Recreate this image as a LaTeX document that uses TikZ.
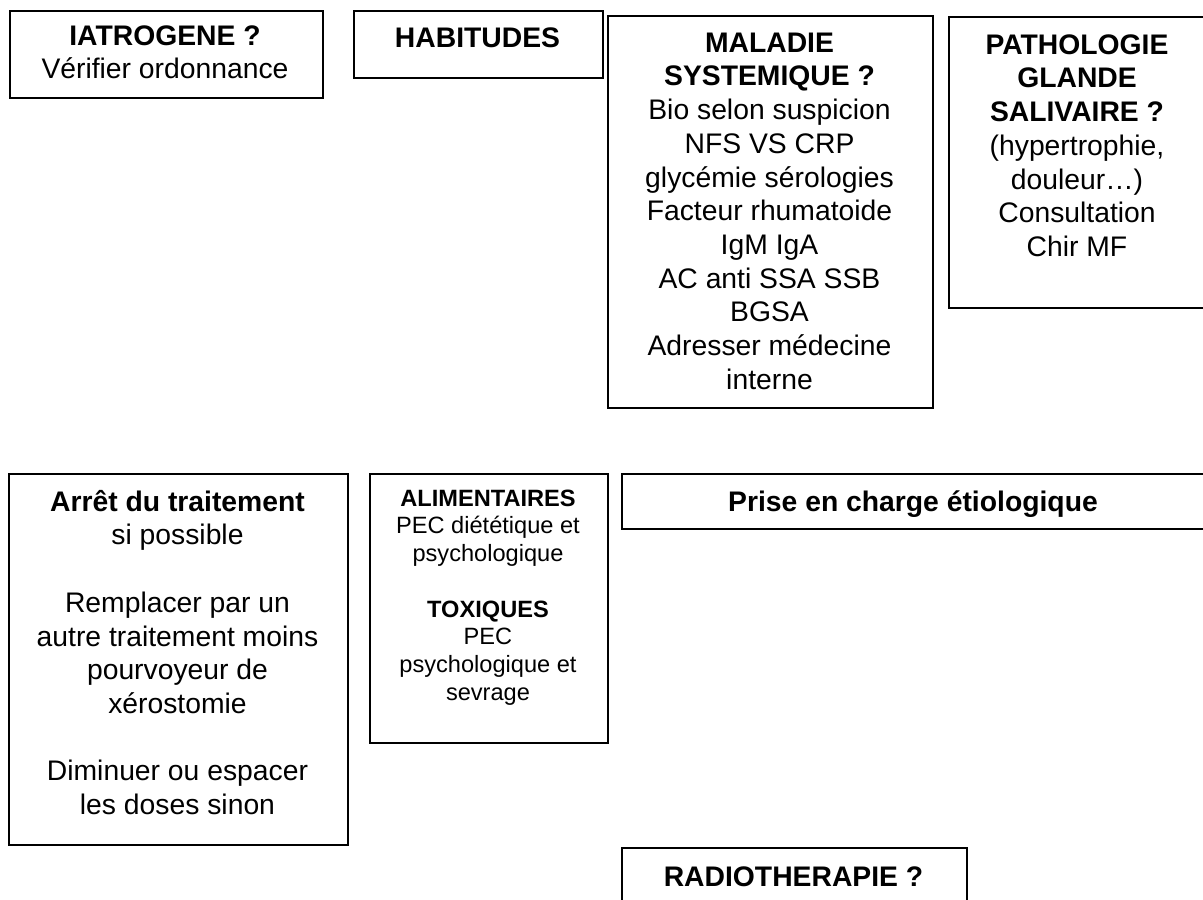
\documentclass[tikz,border=0pt]{standalone}
\usepackage{fontspec}
\setmainfont{Liberation Sans}
\newcommand{\bigfnt}{\fontsize{28.3}{33.7}\selectfont}
\newcommand{\smallfnt}{\fontsize{23.6}{27.7}\selectfont}
\newcommand{\bigstrut}{\rule{0pt}{28pt}}
\newcommand{\smallstrut}{\rule{0pt}{24pt}}
\tikzset{
  box/.style={draw=black, line width=1.7pt, anchor=north west, inner sep=0pt},
  heavybox/.style={box, line width=2.2pt},
  bigtext/.style={anchor=north, align=center, inner sep=0pt, font=\bigfnt},
  smalltext/.style={anchor=north, align=center, inner sep=0pt, font=\smallfnt},
}
\begin{document}
\begin{tikzpicture}[x=1pt,y=-1pt]
\useasboundingbox (0,0) rectangle (1203,900);
\clip (0,0) rectangle (1203,900);
\fill[white] (0,0) rectangle (1203,900);

% boxes
\node[heavybox, minimum width=313.5pt, minimum height=87.5pt] (iat) at (8.5,9.5) {};
\node[heavybox, minimum width=249pt, minimum height=67pt] (hab) at (353,9.5) {};
\node[box, minimum width=325pt, minimum height=392pt] (mal) at (607,15) {};
\node[box, minimum width=258pt, minimum height=291pt] (pat) at (948,16) {};
\node[box, minimum width=339pt, minimum height=371pt] (arr) at (8,473) {};
\node[box, minimum width=238pt, minimum height=269pt] (ali) at (369,473) {};
\node[box, minimum width=584pt, minimum height=55pt] (pec) at (621,473) {};
\node[box, minimum width=345pt, minimum height=113pt] (rad) at (621,847) {};

% texts
\node[bigtext] (iatT) at (165,17) {\bigstrut\textbf{IATROGENE ?}\\Vérifier ordonnance};
\node[bigtext] (habT) at (477.5,19) {\bigstrut\textbf{HABITUDES}};
\node[bigtext] (malT) at (769.5,24) {\bigstrut\textbf{MALADIE}\\\textbf{SYSTEMIQUE ?}\\Bio selon suspicion\\NFS VS CRP\\glycémie sérologies\\Facteur rhumatoide\\IgM IgA\\AC anti SSA SSB\\BGSA\\Adresser médecine\\interne};
\node[bigtext] (patT) at (1077,26) {\bigstrut\textbf{PATHOLOGIE}\\\textbf{GLANDE}\\\textbf{SALIVAIRE ?}\\(hypertrophie,\\douleur…)\\Consultation\\Chir MF};
\node[bigtext] (arrT) at (177.5,483) {\bigstrut\textbf{Arrêt du traitement}\\si possible\\[33.7pt]Remplacer par un\\autre traitement moins\\pourvoyeur de\\xérostomie\\[33.7pt]Diminuer ou espacer\\les doses sinon};
\node[smalltext] (aliT) at (488,482) {\smallstrut\textbf{ALIMENTAIRES}\\PEC diététique et\\psychologique\\[27.7pt]\textbf{TOXIQUES}\\PEC\\psychologique et\\sevrage};
\node[bigtext] (pecT) at (913,483) {\bigstrut\textbf{Prise en charge étiologique}};
\node[bigtext] (radT) at (793.5,858) {\bigstrut\textbf{RADIOTHERAPIE ?}};
\end{tikzpicture}
\end{document}
